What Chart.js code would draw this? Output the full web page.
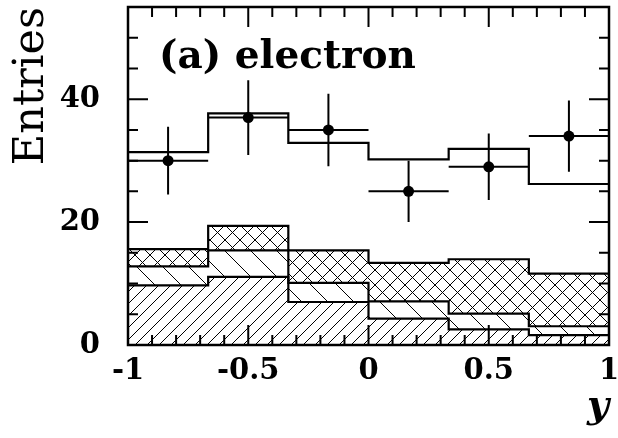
<!DOCTYPE html>
<html><head><meta charset="utf-8">
<script src="https://cdn.jsdelivr.net/npm/chart.js@4/dist/chart.umd.min.js"></script>
<style>html,body{margin:0;padding:0;background:#fff}#wrap{width:618px;height:438px;position:relative}</style>
</head><body><div id="wrap"><canvas id="c" width="618" height="438"></canvas></div>
<script>
// ---- data ----
const binEdges = [-1, -2/3, -1/3, 0, 1/3, 2/3, 1];
const binCenters = [-5/6, -1/2, -1/6, 1/6, 1/2, 5/6];
const dataValues = [30, 37, 35, 25, 29, 34];
const dataErrors = [5.5, 6.1, 5.9, 5.0, 5.4, 5.8];
const mcTotal = [31.4, 37.7, 32.9, 30.2, 31.9, 26.2];
const stackLayer1 = [9.7, 11.1, 7.0, 4.3, 2.55, 1.6];    // top of "///" component
const stackLayer2 = [12.8, 15.4, 10.1, 7.1, 5.1, 3.05];  // top of "\\\" component
const stackLayer3 = [15.6, 19.4, 15.4, 13.35, 13.95, 11.6]; // top of cross-hatched component
const xTickLabels = [-1, -0.5, 0, 0.5, 1];
const yTickLabels = [0, 20, 40];
const xMinorTicks = [-0.9,-0.8,-0.7,-0.6,-0.4,-0.3,-0.2,-0.1,0.1,0.2,0.3,0.4,0.6,0.7,0.8,0.9];
const yMinorTicks = [5,10,15,25,30,35,45,50];
const xRange = [-1, 1];
const yRange = [0, 55];
const panelLabel = '(a) electron';
const xTitle = 'y';
const yTitle = 'Entries';

const canvas = document.getElementById('c');
const mainCtx = canvas.getContext('2d');

function hatch(p, dirs) {
  const c = document.createElement('canvas');
  c.width = p; c.height = p;
  const g = c.getContext('2d');
  g.strokeStyle = '#000'; g.lineWidth = 1;
  g.beginPath();
  for (let k = -1; k <= 1; k++) {
    if (dirs.includes('/')) { g.moveTo(k*p, p); g.lineTo(k*p + p, 0); }
    if (dirs.includes('\\')) { g.moveTo(k*p, 0); g.lineTo(k*p + p, p); }
  }
  g.stroke();
  return mainCtx.createPattern(c, 'repeat');
}
const patFwd = hatch(12, '/');
const patBack = hatch(26, '\\');
const patCross = hatch(15, '/\\');

function steps(vals) {
  return binEdges.map((e, i) => ({x: e, y: vals[Math.min(i, vals.length - 1)]}));
}

const serif = 'DejaVu Serif';

const framePlugin = {
  id: 'frame',
  afterDatasetsDraw(chart) {
    const ctx = chart.ctx, xs = chart.scales.x, ys = chart.scales.y;
    const a = chart.chartArea;
    ctx.save();
    ctx.beginPath(); ctx.rect(a.left, a.top, a.right - a.left, a.bottom - a.top); ctx.clip();
    ctx.strokeStyle = '#000'; ctx.lineWidth = 2; ctx.fillStyle = '#000';
    for (let i = 0; i < dataValues.length; i++) {
      const cx = xs.getPixelForValue(binCenters[i]);
      const cy = ys.getPixelForValue(dataValues[i]);
      ctx.beginPath();
      ctx.moveTo(cx, ys.getPixelForValue(dataValues[i] - dataErrors[i]));
      ctx.lineTo(cx, ys.getPixelForValue(dataValues[i] + dataErrors[i]));
      ctx.moveTo(xs.getPixelForValue(binEdges[i]), cy);
      ctx.lineTo(xs.getPixelForValue(binEdges[i+1]), cy);
      ctx.stroke();
    }
    ctx.restore();
  },
  afterDraw(chart) {
    const ctx = chart.ctx, xs = chart.scales.x, ys = chart.scales.y;
    const a = chart.chartArea;
    ctx.save();
    ctx.strokeStyle = '#000';
    ctx.lineWidth = 2;
    ctx.beginPath();
    const tick = (vals, len, horiz) => {
      vals.forEach(v => {
        if (horiz) {
          const px = xs.getPixelForValue(v);
          ctx.moveTo(px, a.bottom); ctx.lineTo(px, a.bottom - len);
          ctx.moveTo(px, a.top); ctx.lineTo(px, a.top + len);
        } else {
          const py = ys.getPixelForValue(v);
          ctx.moveTo(a.left, py); ctx.lineTo(a.left + len, py);
          ctx.moveTo(a.right, py); ctx.lineTo(a.right - len, py);
        }
      });
    };
    tick(xTickLabels, 20, true);
    tick(xMinorTicks, 10, true);
    tick(yTickLabels, 20, false);
    tick(yMinorTicks, 10, false);
    ctx.stroke();
    ctx.lineWidth = 2.5;
    ctx.strokeRect(a.left, a.top, a.right - a.left, a.bottom - a.top);
    ctx.fillStyle = '#000';
    ctx.font = 'bold 39px "' + serif + '"';
    ctx.textAlign = 'left'; ctx.textBaseline = 'alphabetic';
    ctx.fillText(panelLabel, a.left + 31, a.top + 61);
    ctx.restore();
  }
};

new Chart(canvas, {
  type: 'line',
  data: {
    datasets: [
      { label: 'Data', data: binCenters.map((x, i) => ({x, y: dataValues[i]})), showLine: false,
        pointRadius: 5.5, pointHoverRadius: 5.5, pointBackgroundColor: '#000', pointBorderColor: '#000', pointBorderWidth: 0 },
      { label: 'MC total', data: steps(mcTotal), stepped: 'before', borderColor: '#000', borderWidth: 2.2,
        pointRadius: 0, fill: false },
      { label: 'Layer 3', data: steps(stackLayer3), stepped: 'before', borderColor: '#000', borderWidth: 2.2,
        pointRadius: 0, fill: '+1', backgroundColor: patCross },
      { label: 'Layer 2', data: steps(stackLayer2), stepped: 'before', borderColor: '#000', borderWidth: 2.2,
        pointRadius: 0, fill: '+1', backgroundColor: patBack },
      { label: 'Layer 1', data: steps(stackLayer1), stepped: 'before', borderColor: '#000', borderWidth: 2.2,
        pointRadius: 0, fill: 'origin', backgroundColor: patFwd }
    ]
  },
  options: {
    responsive: false,
    animation: false,
    events: [],
    layout: { padding: { left: 0, top: 7, right: 9, bottom: 0 } },
    plugins: { legend: { display: false }, tooltip: { enabled: false } },
    scales: {
      x: {
        type: 'linear', min: xRange[0], max: xRange[1],
        afterBuildTicks(s) { s.ticks = xTickLabels.map(v => ({value: v})); },
        afterFit(s) { s.height = 93; s.paddingLeft = 0; s.paddingRight = 0; },
        grid: { display: false, drawTicks: false },
        border: { display: false },
        ticks: { color: '#000', padding: 9, maxRotation: 0, autoSkip: false,
          font: { family: serif, weight: 'bold', size: 29 }, callback: v => String(v) },
        title: { display: true, text: xTitle, align: 'end', color: '#000',
          font: { family: serif, style: 'italic', weight: 'bold', size: 38 }, padding: { top: 0, bottom: 8 } }
      },
      y: {
        type: 'linear', min: yRange[0], max: yRange[1],
        afterBuildTicks(s) { s.ticks = yTickLabels.map(v => ({value: v})); },
        afterFit(s) { s.width = 128; s.paddingTop = 0; s.paddingBottom = 0; },
        grid: { display: false, drawTicks: false },
        border: { display: false },
        ticks: { color: '#000', padding: 28, autoSkip: false,
          font: { family: serif, weight: 'bold', size: 29 }, callback: v => String(v) },
        title: { display: true, text: yTitle, align: 'end', color: '#000',
          font: { family: serif, size: 43 }, padding: { top: 6, bottom: 0 } }
      }
    }
  },
  plugins: [framePlugin]
});
</script>
</body></html>
